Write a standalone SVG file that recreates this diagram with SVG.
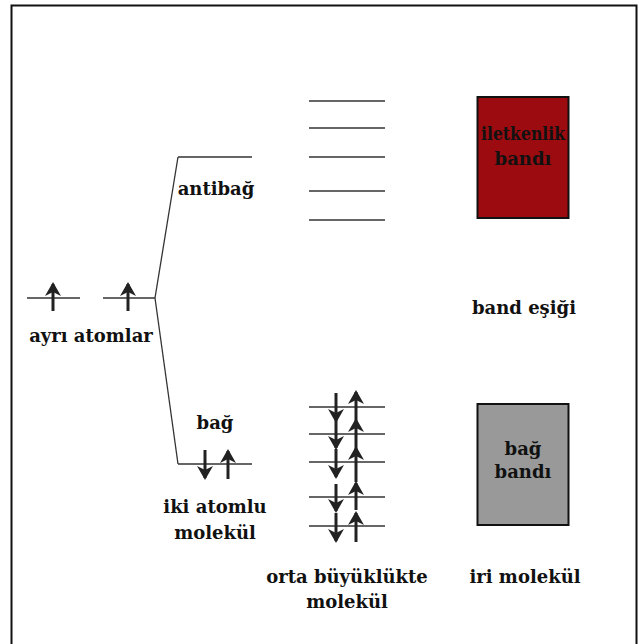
<svg xmlns="http://www.w3.org/2000/svg" width="639" height="644" viewBox="0 0 639 644">
<style>
.t{font-family:"DejaVu Serif","Liberation Serif",serif;font-weight:bold;font-size:18px;fill:#111;text-anchor:middle}
.ln{stroke:#333;stroke-width:1.3;fill:none}
.ar{stroke:#222;stroke-width:3;fill:none}
</style>
<defs>
<marker id="h" markerUnits="userSpaceOnUse" markerWidth="14" markerHeight="16" refX="12" refY="8" orient="auto" viewBox="0 0 14 16">
<path d="M0,0 L14,8 L0,16 L4,8 Z" fill="#222"/>
</marker>
</defs>
<rect x="0" y="0" width="639" height="644" fill="#fff"/>
<rect x="11.5" y="5.5" width="625" height="650" fill="none" stroke="#111" stroke-width="2"/>

<g id="connectors">
<line class="ln" x1="155" y1="298" x2="178" y2="157"/>
<line class="ln" x1="155" y1="298" x2="178" y2="464"/>
</g>

<g id="atoms">
<line class="ln" x1="27" y1="298" x2="80" y2="298"/>
<line class="ar" x1="53" y1="311" x2="53" y2="284" marker-end="url(#h)"/>
<line class="ln" x1="103" y1="298" x2="155" y2="298"/>
<line class="ar" x1="128" y1="311" x2="128" y2="284" marker-end="url(#h)"/>
<text class="t" x="91" y="342">ayrı atomlar</text>
</g>

<g id="antibag">
<line class="ln" x1="178" y1="157" x2="252" y2="157"/>
<text class="t" x="216" y="195">antibağ</text>
</g>

<g id="bag">
<line class="ln" x1="178" y1="464" x2="252" y2="464"/>
<line class="ar" x1="205" y1="450" x2="205" y2="478" marker-end="url(#h)"/>
<line class="ar" x1="228" y1="479" x2="228" y2="451" marker-end="url(#h)"/>
<text class="t" x="215" y="429">bağ</text>
<text class="t" x="215" y="513">iki atomlu</text>
<text class="t" x="215" y="539">molekül</text>
</g>

<g id="orta-antibag">
<line class="ln" x1="309" y1="101" x2="385" y2="101"/>
<line class="ln" x1="309" y1="128" x2="385" y2="128"/>
<line class="ln" x1="309" y1="157" x2="385" y2="157"/>
<line class="ln" x1="309" y1="191" x2="385" y2="191"/>
<line class="ln" x1="309" y1="220" x2="385" y2="220"/>
</g>

<g id="orta-bag">
<line class="ln" x1="309" y1="407" x2="385" y2="407"/>
<line class="ln" x1="309" y1="434" x2="385" y2="434"/>
<line class="ln" x1="309" y1="462" x2="385" y2="462"/>
<line class="ln" x1="309" y1="497" x2="385" y2="497"/>
<line class="ln" x1="309" y1="526" x2="385" y2="526"/>
<line class="ar" x1="336" y1="393" x2="336" y2="421" marker-end="url(#h)"/>
<line class="ar" x1="356" y1="420" x2="356" y2="392" marker-end="url(#h)"/>
<line class="ar" x1="336" y1="421" x2="336" y2="448" marker-end="url(#h)"/>
<line class="ar" x1="356" y1="448" x2="356" y2="420" marker-end="url(#h)"/>
<line class="ar" x1="336" y1="449" x2="336" y2="477" marker-end="url(#h)"/>
<line class="ar" x1="356" y1="482" x2="356" y2="448" marker-end="url(#h)"/>
<line class="ar" x1="336" y1="484" x2="336" y2="511" marker-end="url(#h)"/>
<line class="ar" x1="356" y1="510" x2="356" y2="483" marker-end="url(#h)"/>
<line class="ar" x1="336" y1="513" x2="336" y2="541" marker-end="url(#h)"/>
<line class="ar" x1="356" y1="542" x2="356" y2="513" marker-end="url(#h)"/>
<text class="t" x="347" y="583">orta büyüklükte</text>
<text class="t" x="347" y="608">molekül</text>
</g>

<g id="iletkenlik">
<rect x="477.5" y="97" width="91" height="121" fill="#9b0b10" stroke="#111" stroke-width="2"/>
<text class="t" x="523" y="140" textLength="84" lengthAdjust="spacingAndGlyphs">iletkenlik</text>
<text class="t" x="523" y="165">bandı</text>
</g>

<g id="esik">
<text class="t" x="524" y="314">band eşiği</text>
</g>

<g id="bagbandi">
<rect x="477.5" y="404" width="91" height="121" fill="#999999" stroke="#111" stroke-width="2"/>
<text class="t" x="523" y="455">bağ</text>
<text class="t" x="523" y="478">bandı</text>
<text class="t" x="525" y="583">iri molekül</text>
</g>
</svg>
